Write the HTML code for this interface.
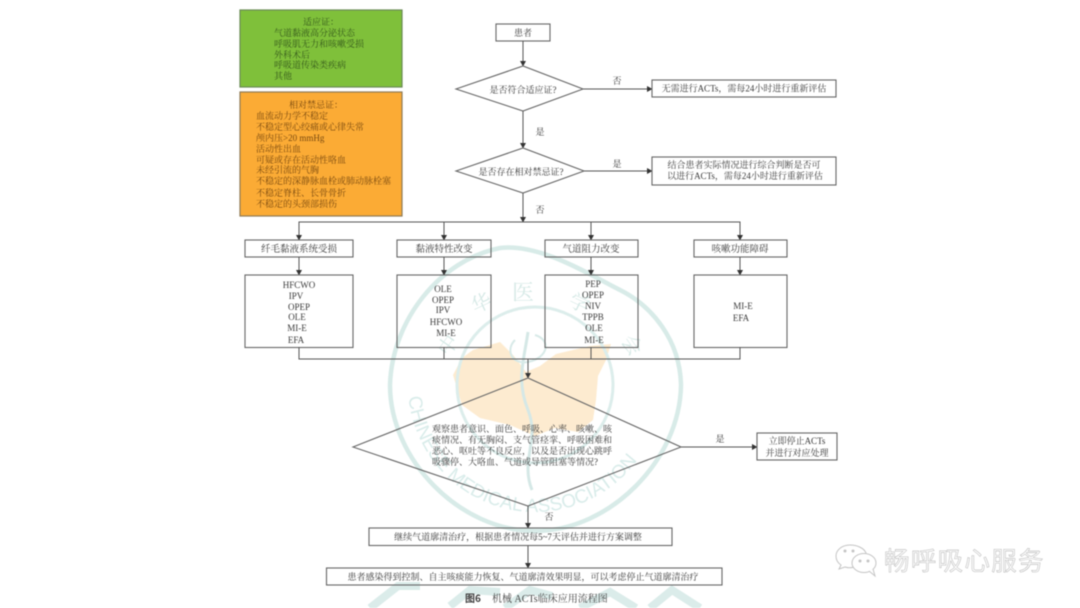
<!DOCTYPE html>
<html><head><meta charset="utf-8"><style>
html,body{margin:0;padding:0;background:#fff;width:1080px;height:608px;overflow:hidden}
svg{display:block;filter:blur(.55px)}
text{font-family:"Liberation Serif","Noto Serif CJK SC",serif;fill:#3a3a3a;font-size:9px}
.c{text-anchor:middle}
.b{fill:none;stroke:#666;stroke-width:1.1}
.l{stroke:#555;stroke-width:1;fill:none}
.w{fill:#d6e9e6;font-family:"Noto Serif CJK SC",serif}
</style></head><body>
<svg width="1080" height="608" viewBox="0 0 1080 608" xmlns="http://www.w3.org/2000/svg">
<defs>
<marker id="a" markerWidth="6" markerHeight="6" refX="5" refY="3" orient="auto" markerUnits="userSpaceOnUse"><path d="M0 0L5.500 3L0 6Z" fill="#333"/></marker>
<path id="arc" d="M408 385A127 127 0 0 0 662 385"/>
</defs>
<!-- watermark -->
<g>
<path d="M453 375L462 358L473 350L500 342L514 356L526 372L540 366L556 354L590 346L611 344L606 360L598 376L596 400L593 420L578 432L555 428L535 436L510 425L480 418L462 405Z" fill="#fdebd0"/>
<path d="M390 385C392 320 440 260 500 248C540 243 590 275 620 290C652 306 680 340 681 385C680 460 610 531 535 531C460 531 390 460 390 385Z" fill="none" stroke="#d8ebe8" stroke-width="4.500"/>
<circle cx="535" cy="385" r="78" fill="none" stroke="#dcedeb" stroke-width="3"/>
<path d="M528 332C524 360 516 380 528 410C540 440 520 460 532 490" fill="none" stroke="#d5e8e6" stroke-width="3"/>
<path d="M515 340C505 350 512 365 528 362C548 358 552 340 535 335" fill="none" stroke="#d8eae8" stroke-width="2"/>
<text class="w" x="512" y="300" style="font-size:22px">医</text>
<text class="w" x="471" y="310" style="font-size:20px" transform="rotate(-25 481 302)">华</text>
<text class="w" x="570" y="310" style="font-size:20px" transform="rotate(25 580 302)">学</text>
<text class="w" x="438" y="352" style="font-size:20px" transform="rotate(-55 448 345)">中</text>
<text class="w" x="622" y="352" style="font-size:20px" transform="rotate(55 632 345)">会</text>
<text style="font-size:19px;fill:#d9ecea;font-family:'Liberation Sans',sans-serif"><textPath href="#arc" startOffset="3%">CHINESE MEDICAL ASSOCIATION</textPath></text>
<path d="M370 608L398 586L420 586M450 606L470 590L500 592M505 608L530 590L552 596M580 608L610 592L636 608M650 608L672 590L700 608" fill="none" stroke="#dbecea" stroke-width="8"/>
</g>
<!-- left boxes -->
<rect x="240" y="10" width="162" height="77" fill="#7fc03a" stroke="#6a8a55" stroke-width="1.200"/>
<rect x="240" y="92" width="162" height="124" fill="#fbab35" stroke="#8e7a55" stroke-width="1.200"/>
<g>
<text class="c" x="321" y="25" style="fill:#35581c">适应证：</text>
<text x="274" y="36" style="fill:#35581c">气道黏液高分泌状态</text>
<text x="274" y="47" style="fill:#35581c">呼吸肌无力和咳嗽受损</text>
<text x="274" y="58" style="fill:#35581c">外科术后</text>
<text x="274" y="68" style="fill:#35581c">呼吸道传染类疾病</text>
<text x="274" y="79" style="fill:#35581c">其他</text>
</g>
<g>
<text class="c" x="316" y="108" style="fill:#7a4a10">相对禁忌证：</text>
<text x="256" y="119" style="fill:#7a4a10">血流动力学不稳定</text>
<text x="256" y="130" style="fill:#7a4a10">不稳定型心绞痛或心律失常</text>
<text x="256" y="141" style="fill:#7a4a10">颅内压&gt;20 mmHg</text>
<text x="256" y="152" style="fill:#7a4a10">活动性出血</text>
<text x="256" y="163" style="fill:#7a4a10">可疑或存在活动性咯血</text>
<text x="256" y="173" style="fill:#7a4a10">未经引流的气胸</text>
<text x="256" y="184" style="fill:#7a4a10">不稳定的深静脉血栓或肺动脉栓塞</text>
<text x="256" y="196" style="fill:#7a4a10">不稳定脊柱、长骨骨折</text>
<text x="256" y="207" style="fill:#7a4a10">不稳定的头颈部损伤</text>
</g>
<!-- top flow -->
<rect class="b" x="496" y="24" width="54" height="17"/>
<text class="c" x="523" y="36">患者</text>
<line class="l" x1="523" y1="41" x2="523" y2="66" marker-end="url(#a)"/>
<path class="b" d="M456 89L523 66L583 89L523 111Z"/>
<text class="c" x="523" y="93">是否符合适应证?</text>
<line class="l" x1="583" y1="89" x2="652" y2="89" marker-end="url(#a)"/>
<text class="c" x="617" y="84">否</text>
<rect class="b" x="652" y="80" width="184" height="17"/>
<text class="c" x="744" y="91.500">无需进行ACTs，需每24小时进行重新评估</text>
<line class="l" x1="523" y1="111" x2="523" y2="148" marker-end="url(#a)"/>
<text class="c" x="540" y="135">是</text>
<path class="b" d="M456 171L523 148L584 171L523 193Z"/>
<text class="c" x="521" y="175">是否存在相对禁忌证?</text>
<line class="l" x1="584" y1="171" x2="652" y2="171" marker-end="url(#a)"/>
<text class="c" x="617" y="167">是</text>
<rect class="b" x="652" y="157" width="184" height="28"/>
<text class="c" x="744" y="168">结合患者实际情况进行综合判断是否可</text>
<text class="c" x="745" y="179">以进行ACTs，需每24小时进行重新评估</text>
<line class="l" x1="523" y1="193" x2="523" y2="222" marker-end="url(#a)"/>
<text class="c" x="540" y="213">否</text>
<!-- branch -->
<path class="l" d="M299 237V222H740V237"/>
<path class="l" d="M299 222V240" marker-end="url(#a)"/>
<path class="l" d="M444 222V240" marker-end="url(#a)"/>
<path class="l" d="M591 222V240" marker-end="url(#a)"/>
<path class="l" d="M740 222V240" marker-end="url(#a)"/>
<rect class="b" x="245" y="240" width="108" height="17"/>
<rect class="b" x="397" y="240" width="94" height="17"/>
<rect class="b" x="545" y="240" width="93" height="17"/>
<rect class="b" x="694" y="240" width="93" height="17"/>
<text class="c" x="299" y="252" style="font-size:9.500px">纤毛黏液系统受损</text>
<text class="c" x="444" y="252" style="font-size:9.500px">黏液特性改变</text>
<text class="c" x="591" y="252" style="font-size:9.500px">气道阻力改变</text>
<text class="c" x="740" y="252" style="font-size:9.500px">咳嗽功能障碍</text>
<path class="l" d="M299 257V275" marker-end="url(#a)"/>
<path class="l" d="M444 257V275" marker-end="url(#a)"/>
<path class="l" d="M591 257V275" marker-end="url(#a)"/>
<path class="l" d="M740 257V275" marker-end="url(#a)"/>
<rect class="b" x="245" y="275" width="108" height="72.500"/>
<rect class="b" x="397" y="275" width="94" height="72.500"/>
<rect class="b" x="545" y="275" width="93" height="72.500"/>
<rect class="b" x="694" y="275" width="93" height="72.500"/>
<g>
<text class="c" x="299" y="288">HFCWO</text><text class="c" x="296" y="299">IPV</text><text class="c" x="299" y="310">OPEP</text><text class="c" x="297" y="320">OLE</text><text class="c" x="297" y="331">MI-E</text><text class="c" x="296" y="343">EFA</text>
<text class="c" x="443" y="292">OLE</text><text class="c" x="443" y="303">OPEP</text><text class="c" x="443" y="313">IPV</text><text class="c" x="446" y="325">HFCWO</text><text class="c" x="446" y="336">MI-E</text>
<text class="c" x="593" y="287">PEP</text><text class="c" x="593" y="298">OPEP</text><text class="c" x="593" y="309">NIV</text><text class="c" x="593" y="320">TPPB</text><text class="c" x="594" y="331">OLE</text><text class="c" x="594" y="343">MI-E</text>
<text class="c" x="743" y="309">MI-E</text><text class="c" x="741" y="321">EFA</text>
</g>
<path class="l" d="M299 347V359H740V347M444 347V359M591 347V359"/>
<line class="l" x1="528" y1="359" x2="528" y2="378" marker-end="url(#a)"/>
<path class="b" d="M353 447L528 378L681 447L528 506Z"/>
<text x="432" y="432">观察患者意识、面色、呼吸、心率、咳嗽、咳</text>
<text x="432" y="443">痰情况、有无胸闷、支气管痉挛、呼吸困难和</text>
<text x="432" y="454">恶心、呕吐等不良反应，以及是否出现心跳呼</text>
<text x="432" y="465">吸骤停、大咯血、气道或导管阻塞等情况?</text>
<line class="l" x1="681" y1="447" x2="757" y2="447" marker-end="url(#a)"/>
<text class="c" x="720" y="442">是</text>
<rect class="b" x="757" y="433" width="80" height="27"/>
<text class="c" x="797" y="444">立即停止ACTs</text>
<text class="c" x="797" y="456">并进行对应处理</text>
<line class="l" x1="528" y1="506" x2="528" y2="528" marker-end="url(#a)"/>
<text class="c" x="549" y="520">否</text>
<rect class="b" x="369" y="528" width="303" height="17.500"/>
<text class="c" x="518" y="540">继续气道廓清治疗，根据患者情况每5~7天评估并进行方案调整</text>
<line class="l" x1="528" y1="545.500" x2="528" y2="568" marker-end="url(#a)"/>
<rect class="b" x="326.500" y="568" width="395.500" height="17"/>
<text class="c" x="523" y="580">患者感染得到控制、自主咳痰能力恢复、气道廓清效果明显，可以考虑停止气道廓清治疗</text>
<text x="465" y="602" style="font-size:10px;font-weight:bold;font-family:'Noto Sans CJK SC',sans-serif">图6</text>
<text x="492" y="602" style="font-size:10px;fill:#444">机械 ACTs临床应用流程图</text>
<!-- wechat watermark -->
<g fill="#fff" stroke="#c4c4c4" stroke-width="1">
<path d="M850 545C842 545 836 550 836 556C836 560 838 563 841 565L839 569L845 567C848 568 851 568 854 567C859 564 866 558 866 553C864 548 857 545 850 545Z"/>
<ellipse cx="864" cy="563" rx="12" ry="9.500"/>
<path d="M869 571L875 576L873 569"/>
<circle cx="860" cy="561" r="1" fill="#ccc"/><circle cx="868" cy="561" r="1" fill="#ccc"/>
<circle cx="845" cy="551" r="1" fill="#ccc"/><circle cx="853" cy="551" r="1" fill="#ccc"/>
</g>
<text x="884" y="570" style="font-family:'Noto Sans CJK SC',sans-serif;font-size:25.500px;fill:#fafafa;stroke:#aaa;stroke-width:.4;letter-spacing:1.300px">畅呼吸心服务</text>
</svg>
</body></html>
